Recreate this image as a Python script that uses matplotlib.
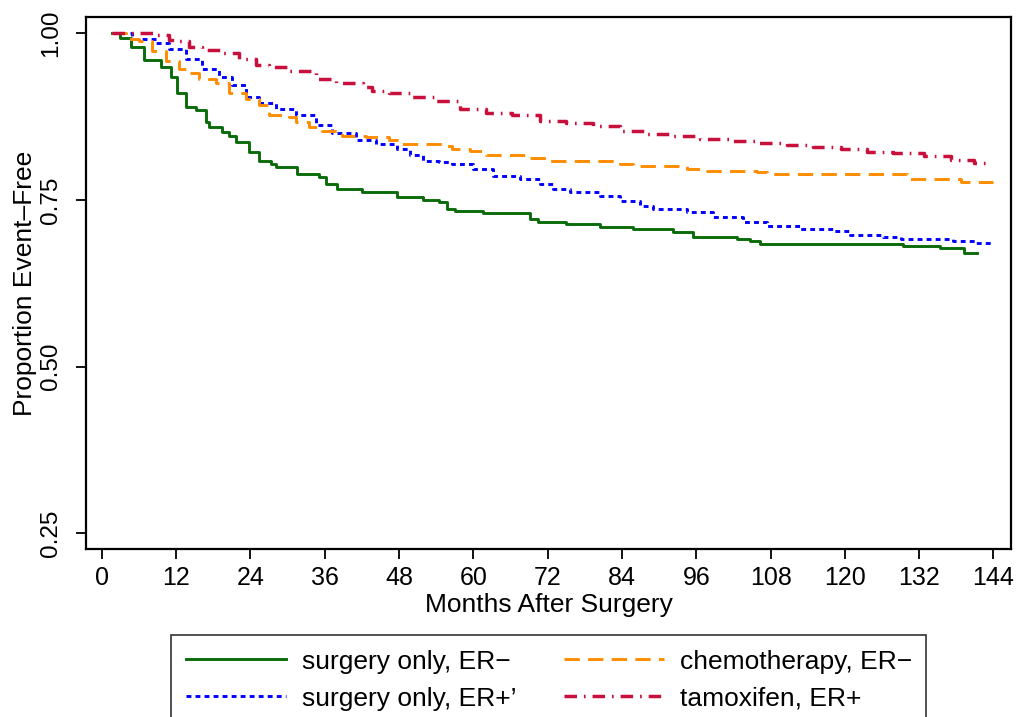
import matplotlib
matplotlib.use("Agg")
import matplotlib.pyplot as plt

# Kaplan-Meier style curves
green_t = [1.6, 3.0, 4.7, 6.8, 9.5, 11.2, 12.1, 13.6, 15.2, 16.8, 17.3, 19.4, 20.6, 21.7, 23.8,
           25.4, 27.3, 28.2, 31.6, 35.1, 36.2, 38.0, 42.0, 47.6, 51.8, 54.5, 55.7, 57.0, 61.5, 69.1,
           70.4, 75.0, 80.4, 85.8, 92.2, 95.5, 102.6, 104.7, 106.3, 129.4, 135.4, 139.2, 141.4]
green_s = [1.0, 0.993, 0.98, 0.96, 0.95, 0.935, 0.91, 0.89, 0.885, 0.867, 0.86, 0.852, 0.846, 0.837, 0.822,
           0.809, 0.804, 0.80, 0.789, 0.785, 0.774, 0.767, 0.762, 0.755, 0.75, 0.747, 0.736, 0.733, 0.731, 0.721,
           0.717, 0.714, 0.709, 0.706, 0.702, 0.694, 0.691, 0.688, 0.684, 0.681, 0.678, 0.670, 0.670]

blue_t = [1.6, 4.9, 8.7, 10.8, 13.6, 16.2, 18.9, 21.0, 23.3, 25.4, 28.2, 31.4, 34.6, 37.2, 41.1,
          44.3, 47.6, 49.7, 51.8, 54.5, 56.6, 59.9, 63.1, 67.5, 70.7, 72.8, 75.6, 80.4, 83.7, 86.9,
          89.0, 94.5, 98.7, 103.6, 107.4, 112.8, 118.1, 120.9, 126.2, 129.0, 137.5, 141.0, 144.0]
blue_s = [1.0, 0.992, 0.985, 0.977, 0.962, 0.947, 0.935, 0.922, 0.905, 0.895, 0.887, 0.877, 0.862, 0.85, 0.84,
          0.834, 0.827, 0.817, 0.809, 0.807, 0.804, 0.797, 0.786, 0.782, 0.774, 0.767, 0.762, 0.756, 0.749, 0.741,
          0.736, 0.732, 0.724, 0.717, 0.711, 0.706, 0.703, 0.697, 0.694, 0.691, 0.688, 0.685, 0.685]

orange_t = [1.6, 3.9, 6.0, 8.1, 10.4, 12.5, 14.1, 15.7, 18.4, 20.6, 23.3, 25.4, 27.0, 30.3, 31.4,
            33.5, 35.6, 38.8, 42.7, 46.4, 48.5, 55.7, 56.6, 59.4, 62.1, 69.1, 72.3, 83.7, 85.8, 94.5,
            97.7, 105.8, 107.4, 130.1, 138.7, 144.0]
orange_s = [1.0, 0.992, 0.988, 0.973, 0.958, 0.947, 0.94, 0.932, 0.925, 0.91, 0.902, 0.892, 0.877, 0.875, 0.867,
            0.86, 0.854, 0.846, 0.845, 0.84, 0.834, 0.831, 0.827, 0.824, 0.818, 0.813, 0.809, 0.804, 0.801, 0.797,
            0.794, 0.792, 0.789, 0.782, 0.777, 0.777]

red_t = [1.6, 6.5, 8.7, 10.8, 12.5, 14.1, 16.2, 19.4, 22.2, 24.9, 27.0, 30.3, 34.6, 37.9, 42.1,
         43.7, 46.4, 49.7, 54.0, 57.8, 62.1, 66.3, 70.7, 75.0, 79.3, 83.7, 88.0, 92.2, 96.6, 101.5,
         105.8, 110.7, 114.9, 119.3, 123.6, 127.8, 132.7, 137.1, 140.8, 143.2]
red_s = [1.0, 1.0, 0.997, 0.99, 0.988, 0.98, 0.975, 0.97, 0.961, 0.952, 0.95, 0.943, 0.932, 0.925, 0.92,
         0.914, 0.91, 0.904, 0.898, 0.887, 0.881, 0.877, 0.869, 0.866, 0.861, 0.854, 0.849, 0.846, 0.842, 0.839,
         0.836, 0.833, 0.83, 0.827, 0.822, 0.821, 0.816, 0.81, 0.806, 0.806]

labels = ["surgery only, ER\u2212", "surgery only, ER+\u2019", "chemotherapy, ER\u2212", "tamoxifen, ER+"]
x_ticks = list(range(0, 145, 12))
y_ticks = [0.25, 0.50, 0.75, 1.00]
y_ticklabels = ["0.25", "0.50", "0.75", "1.00"]

font = "Liberation Sans"
plt.rcParams["font.family"] = font
plt.rcParams["lines.scale_dashes"] = False

fig = plt.figure(figsize=(10.18, 7.17), dpi=100)
ax = fig.add_axes([0.0845, 0.2343, 0.9087, 0.742])

lw = 2.1
l1, = ax.step(green_t, green_s, where="post", color="#0a6b0a", lw=lw, linestyle="-")
l2, = ax.step(blue_t, blue_s, where="post", color="#0000ff", lw=lw, dashes=(3.5, 3.0))
l3, = ax.step(orange_t, orange_s, where="post", color="#ff8c00", lw=lw, dashes=(11, 6))
l4, = ax.step(red_t, red_s, where="post", color="#c8103c", lw=lw + 0.4, dashes=(9, 5, 1.2, 5))

ax.set_xlim(-2.55, 146.84)
ax.set_ylim(0.2265, 1.0245)
ax.set_xticks(x_ticks)
ax.set_xticklabels([str(v) for v in x_ticks], fontsize=18)
ax.set_yticks(y_ticks)
ax.set_yticklabels(y_ticklabels, fontsize=17.5, rotation=90, va="center")
ax.tick_params(axis="both", direction="out", length=7.2, width=1.3)
ax.tick_params(axis="x", pad=5)
ax.tick_params(axis="y", pad=10)
for sp in ax.spines.values():
    sp.set_linewidth(1.6)

ax.set_xlabel("Months After Surgery", fontsize=19, labelpad=2)
ax.set_ylabel("Proportion Event\u2013Free", fontsize=19, labelpad=2)

leg = fig.legend([l1, l2, l3, l4], labels, ncol=2, loc="upper left",
                 bbox_to_anchor=(171 / 1018, 1 - 635 / 717), borderaxespad=0,
                 frameon=True, fancybox=False, edgecolor="black", prop={"size": 19},
                 handlelength=3.8, handletextpad=0.6, columnspacing=1.8,
                 borderpad=0.55, labelspacing=0.5)
leg.get_frame().set_linewidth(1.2)

fig.savefig("out.png", dpi=100)
